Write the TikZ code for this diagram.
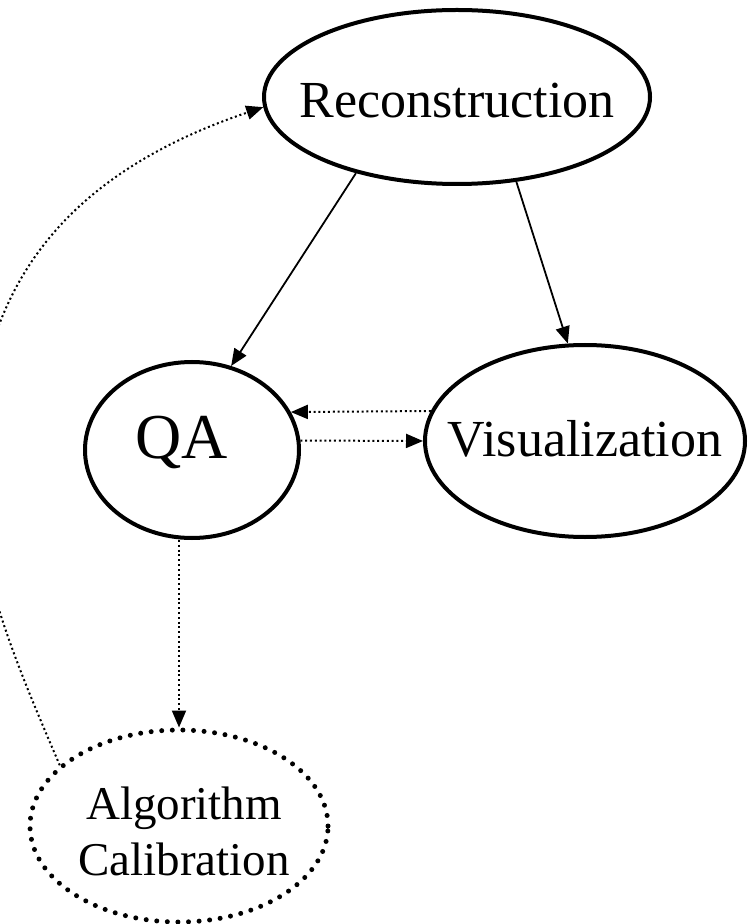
\documentclass[tikz,border=0pt]{standalone}
\usepackage{fontspec}
\setmainfont{Liberation Serif}
\usetikzlibrary{shapes.geometric, arrows.meta}

\begin{document}
\begin{tikzpicture}[x=.5pt, y=-.5pt,
		stage/.style={ellipse, draw, line width=2pt, inner sep=0pt},
		flow/.style={line width=.9pt, -{Triangle[length=8.5pt, width=7pt]}},
		feed/.style={flow, line width=1pt, dash pattern=on 1pt off 1.4pt}]
		\useasboundingbox (0, 0) rectangle (748, 924);
		
		% Etapas
		\node[stage, minimum width=193pt, minimum height=87pt] (recon) at (457, 97) {\fontsize{26}{30}\selectfont\makebox[0pt]{\raisebox{-10.5pt}[0pt][0pt]{Reconstruction}}};
		\node[stage, minimum width=107pt, minimum height=88pt] (qa) at (192, 450) {\fontsize{32}{36}\selectfont\makebox[0pt]{\kern-10pt\raisebox{-4pt}[0pt][0pt]{QA}}};
		\node[stage, minimum width=160pt, minimum height=96pt] (vis) at (585, 441) {\fontsize{26}{30}\selectfont\makebox[0pt]{\raisebox{-7.5pt}[0pt][0pt]{Visualization}}};
		\node[stage, minimum width=149pt, minimum height=96pt, line width=2.5pt, dash pattern=on 0pt off 5.3pt, line cap=round] (calib) at (179, 826) {\fontsize{23.5}{28}\selectfont\makebox[0pt]{\kern5pt\raisebox{3.5pt}[0pt][0pt]{\begin{tabular}[t]{@{}c@{}}Algorithm\\Calibration\end{tabular}}}};
		
		% Flechas
		\draw[flow] (recon.217) -- (qa.65);
		\draw[flow] (recon.305) -- (vis.100);
		\draw[feed] (vis.169) -- (qa.21);
		\draw[feed] (qa.5) -- (vis.west);
		\draw[feed] (calib.north |- qa.south) -- (calib.north);
		\coordinate (bend) at (-25, 470);
		\draw[feed] (calib.153) .. controls (19, 670) and (-25, 570) .. (bend) .. controls (-25, 300) and (53, 178) .. (recon.183);
	\end{tikzpicture}
\end{document}
